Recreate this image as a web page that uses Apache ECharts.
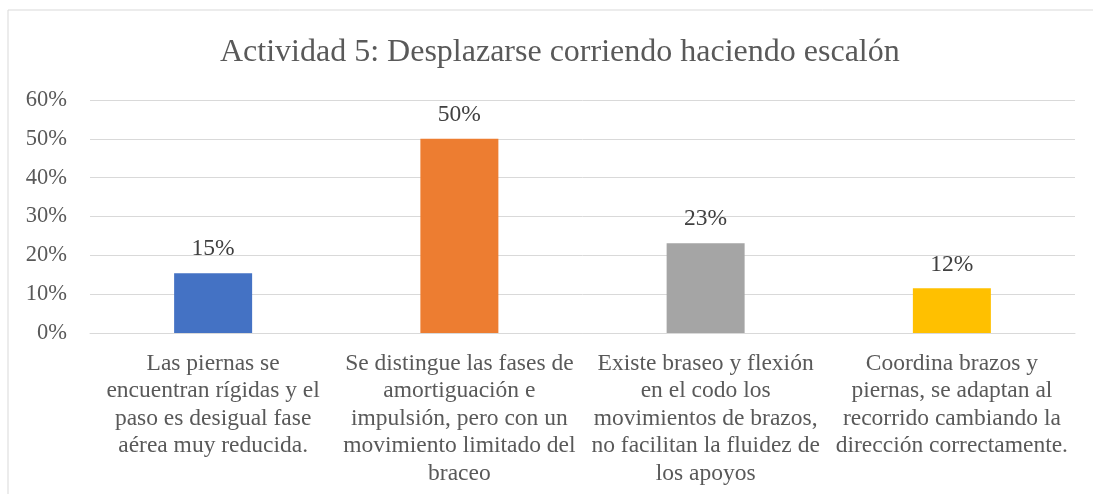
<!DOCTYPE html>
<html lang="es">
<head>
    <meta charset="UTF-8">
    <title>Actividad 5</title>
    <script src="https://cdn.jsdelivr.net/npm/echarts@6/dist/echarts.min.js"></script>
    <style>
        html, body { margin: 0; padding: 0; background: #fff; }
        #chart { width: 1093px; height: 494px; }
    </style>
</head>
<body>
<div id="chart"></div>
<script type="text/javascript">
    var titleText = 'Actividad 5: Desplazarse corriendo haciendo escalón';
    var categories = [
        'Las piernas se\nencuentran rígidas y el\npaso es desigual fase\naérea muy reducida.',
        'Se distingue las fases de\namortiguación e\nimpulsión, pero con un\nmovimiento limitado del\nbraceo',
        'Existe braseo y flexión\nen el codo los\nmovimientos de brazos,\nno facilitan la fluidez de\nlos apoyos',
        'Coordina brazos y\npiernas, se adaptan al\nrecorrido cambiando la\ndirección correctamente.'
    ];
    var values = [0.154, 0.5, 0.231, 0.115];
    var colors = ['#4472C4', '#ED7D31', '#A5A5A5', '#FFC000'];

    var serif = '"Liberation Serif", "DejaVu Serif", serif';
    var txt = '#595959';

    var myChart = echarts.init(document.getElementById('chart'));

    var barData = [];
    for (var i = 0; i < values.length; i++) {
        barData.push({value: values[i], itemStyle: {color: colors[i]}});
    }

    myChart.setOption({
        animation: false,
        backgroundColor: '#fff',
        title: {
            text: titleText,
            left: 215,
            top: 32,
            textStyle: {fontFamily: serif, fontSize: 32, fontWeight: 'normal', color: txt}
        },
        graphic: [{
            type: 'rect',
            shape: {x: 8, y: 10, width: 1200, height: 600},
            style: {fill: 'none', stroke: '#D9D9D9', lineWidth: 1}
        }],
        grid: {left: 90, right: 18, top: 100, bottom: 161},
        xAxis: {
            type: 'category',
            data: categories,
            axisLine: {show: true, lineStyle: {color: '#D9D9D9', width: 1}},
            axisTick: {show: false},
            axisLabel: {
                interval: 0,
                margin: 17,
                fontFamily: serif,
                fontSize: 23.5,
                lineHeight: 27.5,
                color: txt,
                align: 'center'
            }
        },
        yAxis: {
            type: 'value',
            min: 0,
            max: 0.6,
            interval: 0.1,
            axisLine: {show: false},
            axisTick: {show: false},
            splitLine: {lineStyle: {color: '#D9D9D9', width: 1}},
            axisLabel: {
                margin: 23,
                fontFamily: serif,
                fontSize: 22.5,
                color: txt,
                formatter: function (v) { return Math.round(v * 100) + '%'; }
            }
        },
        series: [{
            type: 'bar',
            data: barData,
            barWidth: 78,
            label: {
                show: true,
                position: 'top',
                distance: 12,
                fontFamily: serif,
                fontSize: 23.5,
                color: '#404040',
                formatter: function (p) { return Math.round(p.value * 100) + '%'; }
            }
        }]
    });
</script>
</body>
</html>
